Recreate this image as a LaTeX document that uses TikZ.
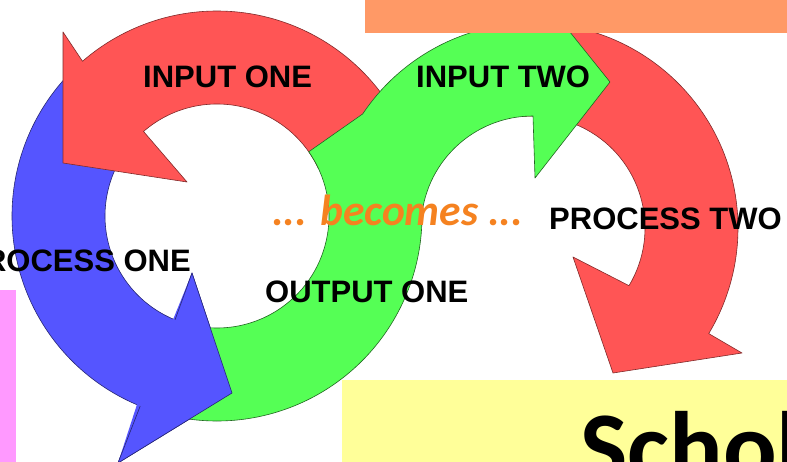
\documentclass[tikz,border=0pt]{standalone}
\usepackage{fontspec}
\setmainfont{Liberation Sans}
\newfontfamily\calib{Carlito}
\usetikzlibrary{calc}
\definecolor{ared}{HTML}{FF5555}
\definecolor{ablue}{HTML}{5555FF}
\definecolor{agreen}{HTML}{55FF55}
\definecolor{aorange}{HTML}{FF9966}
\definecolor{apink}{HTML}{FF99FF}
\definecolor{ayellow}{HTML}{FFFF99}
\definecolor{atext}{HTML}{F58220}
\tikzset{
  redarrow/.style={fill=ared, draw=ared!50!black, line width=0.6pt, line join=round},
  bluearrow/.style={fill=ablue, draw=ablue!45!black, line width=0.6pt, line join=round},
  greenarrow/.style={fill=agreen, draw=agreen!40!black, line width=0.6pt, line join=round},
  lbl/.style={inner sep=0pt, anchor=base west, font=\bfseries\fontsize{31}{31}\selectfont},
}
\begin{document}
\begin{tikzpicture}[x=1pt,y=1pt]
\useasboundingbox (0,0) rectangle (787,-462);
\clip (0,0) rectangle (787,-462);
\fill[white] (0,0) rectangle (787,-462);
\coordinate (L) at (217,-216);
\coordinate (R) at (533,-228);
% PROCESS TWO arrow (red, right)
\draw[redarrow] ($(R)+(95:205)$) arc[start angle=95,end angle=-31,radius=205]
  -- (742,-353) -- (613,-373) -- (573,-257) -- ($(R)+(-31:112)$)
  arc[start angle=-31,end angle=95,radius=112] -- cycle;
% PROCESS ONE arrow (blue)
\draw[bluearrow] ($(L)+(135:205)$) arc[start angle=135,end angle=248,radius=205]
  -- (118,-463) -- (232,-393) -- (192,-273) -- ($(L)+(248:112)$)
  arc[start angle=248,end angle=135,radius=112] -- cycle;
% INPUT ONE arrow (red, left)
\draw[redarrow] ($(L)+(25:205)$) arc[start angle=25,end angle=131,radius=205]
  -- (63,-32) -- (63,-163) -- (187,-182) -- ($(L)+(131:112)$)
  arc[start angle=131,end angle=25,radius=112] -- cycle;
% OUTPUT ONE / INPUT TWO arrow (green S)
\draw[greenarrow] ($(L)+(252:205)$) arc[start angle=252,end angle=357.8,radius=205]
  -- ($(R)+(177.8:112)$) arc[start angle=177.8,end angle=90,radius=112]
  -- (535,-178) -- (610,-82) -- (533,14) -- ($(R)+(90:205)$)
  arc[start angle=90,end angle=146.2,radius=205]
  -- ($(L)+(35:112)$) arc[start angle=35,end angle=-108,radius=112] -- cycle;
% blue head on top of green start
\fill[ablue] ($(L)+(247:205)$) -- (118,-463) -- (232,-393) -- (192,-273) -- ($(L)+(247:112)$) -- cycle;
\draw[ablue!45!black, line width=0.6pt, line join=round] ($(L)+(248:205)$) -- (118,-463) -- (232,-393) -- (192,-273) -- ($(L)+(248:112)$);
% background boxes
\fill[aorange] (365,0) rectangle (787,-33);
\fill[apink] (0,-290) rectangle (16,-462);
\fill[ayellow] (342,-380) rectangle (787,-462);
% labels
\node[lbl] (in1) at (143,-88) {INPUT ONE};
\node[lbl] (in2) at (416,-88) {INPUT TWO};
\node[lbl] (pr2) at (549,-230) {PROCESS TWO};
\node[lbl, anchor=base east] (pr1) at (191,-272) {PROCESS ONE};
\node[lbl] (out1) at (265,-303) {OUTPUT ONE};
\node[inner sep=0pt, anchor=base west, text=atext, font=\calib\bfseries\itshape\fontsize{43.5}{43.5}\selectfont] (bec) at (272,-226) {... becomes ...};
\node[inner sep=0pt, anchor=base west, font=\calib\bfseries\fontsize{100}{100}\selectfont] (sch) at (580,-481) {Schol};
\end{tikzpicture}
\end{document}
